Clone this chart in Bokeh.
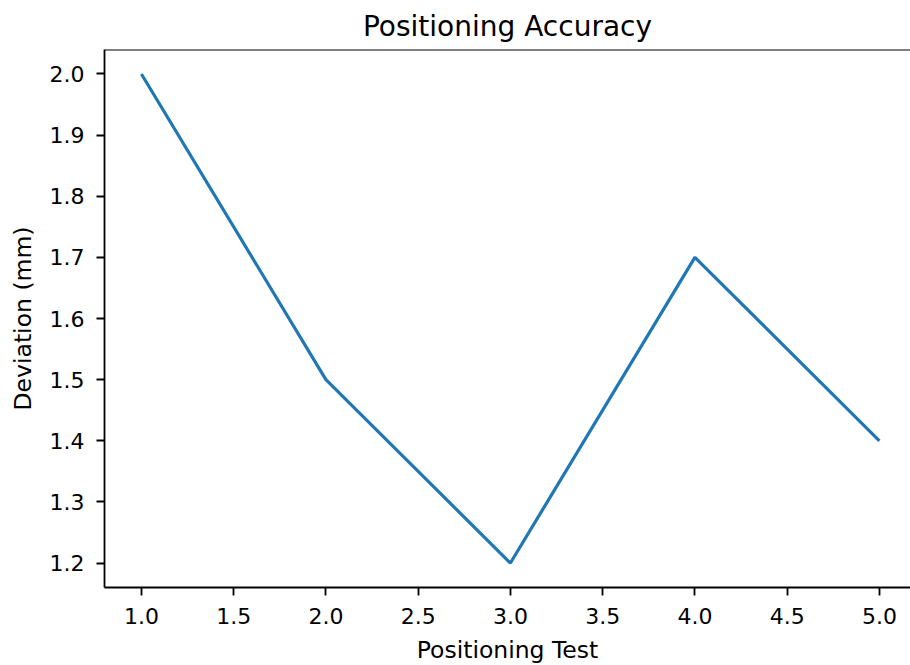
from bokeh.plotting import figure
from bokeh.models import Range1d, SingleIntervalTicker, NumeralTickFormatter, Span
from bokeh.embed import file_html
from bokeh.resources import INLINE

tests = [1, 2, 3, 4, 5]
deviation = [2.0, 1.5, 1.2, 1.7, 1.4]

FONT = "DejaVu Sans"

p = figure(
    frame_width=806, frame_height=538,
    x_range=Range1d(0.8, 5.1686), y_range=Range1d(1.16, 2.04),
    output_backend="svg", toolbar_location=None,
    min_border_left=104, min_border_right=0, min_border_top=49, min_border_bottom=78,
    title="Positioning Accuracy",
)
p.line(tests, deviation, line_color="#1f77b4", line_width=3.2)

p.title.text_font = FONT
p.title.text_font_size = "28px"
p.title.text_font_style = "normal"
p.title.align = "center"
p.title.text_color = "black"
p.title.offset = 0
p.title.standoff = 13

p.outline_line_color = None
p.add_layout(Span(location=2.04, dimension="width", line_color="black", line_width=1.8))
p.xgrid.visible = False
p.ygrid.visible = False

p.xaxis.ticker = SingleIntervalTicker(interval=0.5, num_minor_ticks=0)
p.yaxis.ticker = SingleIntervalTicker(interval=0.1, num_minor_ticks=0)
p.xaxis.formatter = NumeralTickFormatter(format="0.0")
p.yaxis.formatter = NumeralTickFormatter(format="0.0")
p.xaxis.axis_label = "Positioning Test"
p.yaxis.axis_label = "Deviation (mm)"

for ax in (p.xaxis, p.yaxis):
    ax.axis_line_color = "black"
    ax.axis_line_width = 1.8
    ax.major_tick_line_color = "black"
    ax.major_tick_line_width = 1.8
    ax.major_tick_out = 8
    ax.major_tick_in = 0
    ax.minor_tick_line_color = None
    ax.major_label_text_font = FONT
    ax.major_label_text_font_size = "22px"
    ax.major_label_text_color = "black"
    ax.axis_label_text_font = FONT
    ax.axis_label_text_font_size = "23.5px"
    ax.axis_label_text_font_style = "normal"
    ax.axis_label_text_color = "black"

p.xaxis.major_label_standoff = 12
p.xaxis.axis_label_standoff = 9
p.yaxis.major_label_standoff = 12
p.yaxis.axis_label_standoff = 10

open("out.html", "w").write(file_html(p, INLINE))
